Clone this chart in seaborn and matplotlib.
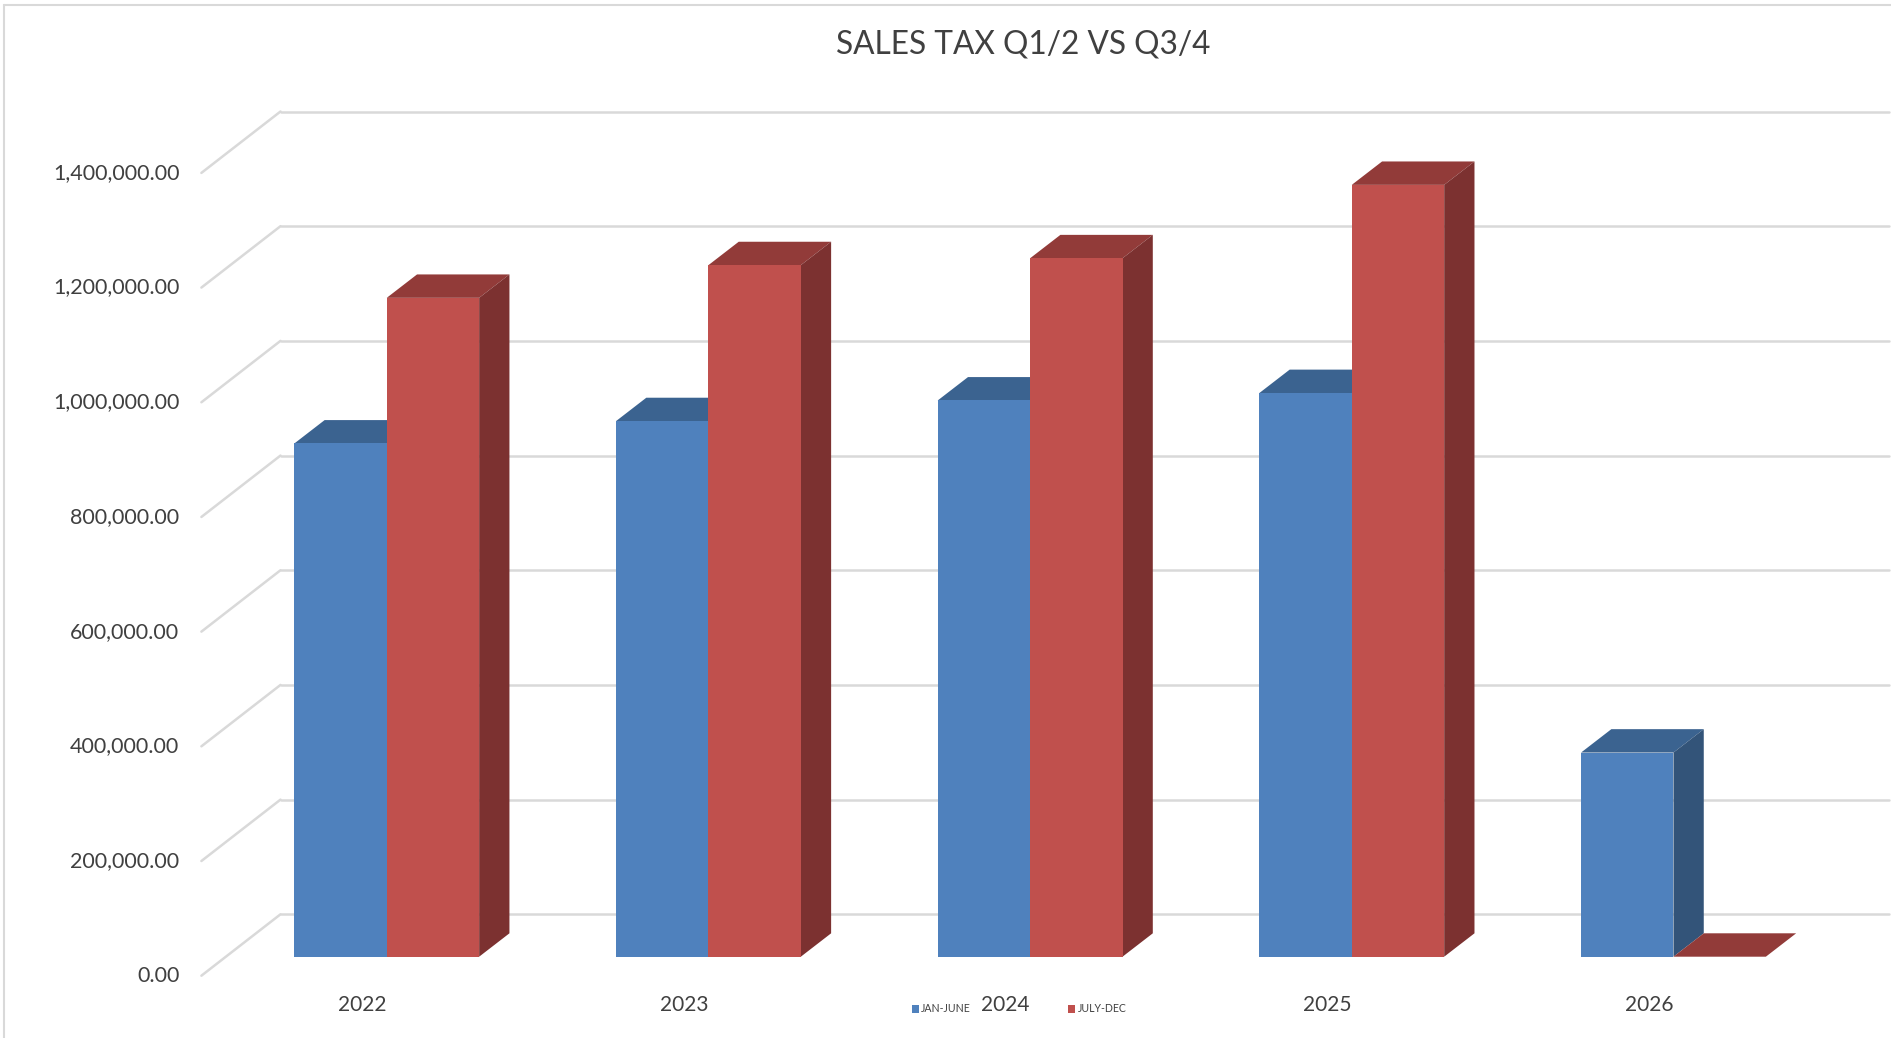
import numpy as np
import pandas as pd
import matplotlib

matplotlib.use("Agg")
import matplotlib.pyplot as plt
import seaborn as sns
from matplotlib.transforms import offset_copy, IdentityTransform
from matplotlib.patches import Polygon
from matplotlib.lines import Line2D

# Data

years = ["2022", "2023", "2024", "2025", "2026"]
periods = ["JAN-JUNE", "JULY-DEC"]
jan_june = [895000, 934000, 970000, 983000, 356000]
july_dec = [1149000, 1206000, 1218000, 1346000, 0]
y_ticks = [0, 200000, 400000, 600000, 800000, 1000000, 1200000, 1400000]

df = pd.DataFrame(
    {
        "year": years * 2,
        "period": [periods[0]] * len(years) + [periods[1]] * len(years),
        "sales": jan_june + july_dec,
    }
)

# Colours: front / top / side of each series
front_cols = ["#4F81BD", "#C0504D"]
top_cols = ["#3B6390", "#923B39"]
side_cols = ["#335479", "#7C3130"]
grid_col = "#D9D9D9"
text_col = "#404040"

sns.set_style("white")
plt.rcParams["font.family"] = ["Lato", "DejaVu Sans"]

W, H = 1891, 1038
fig = plt.figure(figsize=(W / 100, H / 100), dpi=100)
fig.patch.set_facecolor("white")

# axes = the plane of the bar fronts
ax = fig.add_axes([225.9 / W, 1 - 956.7 / H, (1834.3 - 225.9) / W, 802.8 / H])

sns.barplot(
    data=df,
    x="year",
    y="sales",
    hue="period",
    palette=front_cols,
    saturation=1,
    width=0.5745,
    linewidth=0,
    errorbar=None,
    ax=ax,
)
ax.set_xlim(-0.5, 4.5)
ax.set_ylim(0, 1400000)
ax.axis("off")

# pixel offsets of the other depth planes relative to the bar fronts
floor_off = np.array([-24.5, -19.0])
wall_off = np.array([54.6, 42.4])
bar_depth = np.array([30.3, 23.4])

# back wall gridlines + diagonal floor lines
wall_tr = offset_copy(ax.transData, fig=fig, x=wall_off[0], y=wall_off[1], units="dots")
for v in y_ticks:
    ax.plot([-0.5, 4.5], [v, v], color=grid_col, lw=1.8, transform=wall_tr,
            clip_on=False, zorder=0)
    p = ax.transData.transform((-0.5, v))
    fig.add_artist(Line2D([p[0] + floor_off[0], p[0] + wall_off[0]],
                          [p[1] + floor_off[1], p[1] + wall_off[1]],
                          color=grid_col, lw=1.8, transform=IdentityTransform(), zorder=0))

# y labels on the front floor edge
ylab_tr = offset_copy(ax.transData, fig=fig, x=floor_off[0] - 22, y=floor_off[1], units="dots")
for v in y_ticks:
    ax.text(-0.5, v, f"{v:,.2f}", transform=ylab_tr, ha="right", va="center",
            fontsize=15.5, color=text_col, clip_on=False)

# year labels
xlab_tr = offset_copy(ax.transData, fig=fig, x=floor_off[0], y=-48.3, units="dots")
for i, yr in enumerate(years):
    ax.text(i, 0, yr, transform=xlab_tr, ha="center", va="center",
            fontsize=15, color=text_col, clip_on=False)

# 3D faces for every bar
for k, cont in enumerate(ax.containers):
    for j, bar in enumerate(cont):
        x0, w, h = bar.get_x(), bar.get_width(), bar.get_height()
        tl = ax.transData.transform((x0, h))
        tr = ax.transData.transform((x0 + w, h))
        br = ax.transData.transform((x0 + w, 0))
        z = 3 + j * 4 + k * 2
        bar.set_zorder(z + 1)
        bar.set_clip_on(False)
        top = Polygon([tl, tr, tr + bar_depth, tl + bar_depth], closed=True,
                      facecolor=top_cols[k], edgecolor="none",
                      transform=IdentityTransform(), zorder=z)
        side = Polygon([br, tr, tr + bar_depth, br + bar_depth], closed=True,
                       facecolor=side_cols[k], edgecolor="none",
                       transform=IdentityTransform(), zorder=z)
        ax.add_artist(top)
        ax.add_artist(side)
        top.set_clip_on(False)
        side.set_clip_on(False)

# legend
handles, labels = ax.get_legend_handles_labels()
ax.legend(handles, labels, loc="center", bbox_to_anchor=(1019 / W, 1 - 1009 / H),
          bbox_transform=fig.transFigure, ncol=2, frameon=False, fontsize=7.6,
          handlelength=0.7, handleheight=0.7, handletextpad=0.2,
          columnspacing=9.2, labelcolor=text_col)

# title
fig.text(1023.6 / W, 1 - 45 / H, "SALES TAX Q1/2 VS Q3/4", ha="center", va="center",
         fontsize=22.8, color=text_col)

# chart area border (left + top)
fig.add_artist(Line2D([4 / W, 4 / W], [0, 1 - 5 / H], color=grid_col, lw=1.5,
                      transform=fig.transFigure))
fig.add_artist(Line2D([4 / W, 1], [1 - 5 / H, 1 - 5 / H], color=grid_col, lw=1.5,
                      transform=fig.transFigure))

fig.savefig("out.png", dpi=100)
